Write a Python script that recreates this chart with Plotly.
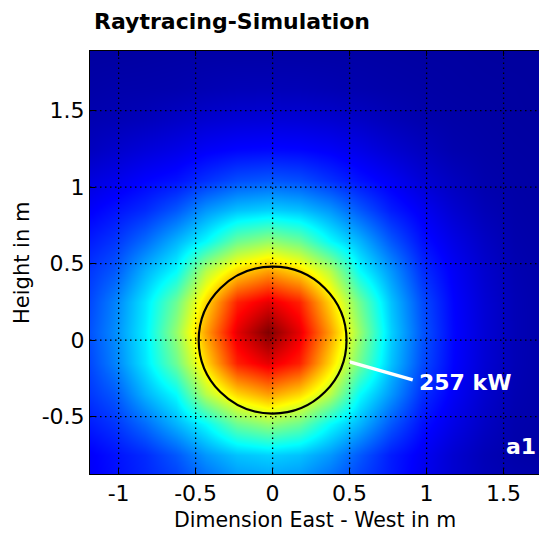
import plotly.graph_objects as go

# ---- data ----
title_text = "Raytracing-Simulation"
x_title = "Dimension East - West in m"
y_title = "Height in m"

# sample grid of the simulated flux map (relative intensity, 0..1), rows bottom -> top
grid_x = [-1.23, -1.03, -0.83, -0.63, -0.43, -0.23, -0.03, 0.17, 0.37, 0.57,
          0.77, 0.97, 1.17, 1.37, 1.57, 1.77]
grid_y = [-0.95, -0.75, -0.55, -0.35, -0.15, 0.05, 0.25, 0.45, 0.65, 0.85,
          1.05, 1.25, 1.45, 1.65, 1.85, 2.05]
flux = [
    [.114, .135, .16, .18, .22, .26, .27, .26, .22, .18, .148, .108, .079, .057, .049, .044],
    [.115, .14, .166, .21, .273, .315, .33, .315, .273, .21, .151, .114, .079, .054, .041, .036],
    [.145, .175, .23, .30, .375, .48, .52, .48, .375, .30, .21, .14, .10, .067, .045, .038],
    [.17, .21, .30, .375, .555, .665, .72, .665, .555, .375, .273, .171, .117, .077, .05, .039],
    [.18, .25, .35, .48, .665, .845, .90, .845, .665, .48, .315, .20, .127, .083, .054, .04],
    [.19, .26, .36, .52, .72, .90, 1.00, .90, .72, .52, .33, .21, .13, .085, .055, .04],
    [.18, .25, .35, .48, .665, .845, .90, .845, .665, .48, .315, .20, .127, .083, .054, .04],
    [.17, .21, .30, .375, .555, .665, .72, .665, .555, .375, .273, .171, .117, .077, .05, .039],
    [.145, .175, .23, .30, .375, .48, .52, .48, .375, .30, .21, .14, .10, .067, .045, .038],
    [.115, .14, .166, .21, .273, .315, .33, .315, .273, .21, .151, .114, .079, .054, .041, .036],
    [.088, .104, .125, .14, .171, .20, .21, .20, .171, .14, .114, .083, .061, .044, .038, .034],
    [.058, .073, .087, .10, .117, .127, .13, .127, .117, .10, .079, .061, .045, .039, .035, .033],
    [.047, .051, .057, .067, .077, .083, .085, .083, .077, .067, .054, .044, .039, .036, .033, .031],
    [.038, .042, .043, .045, .05, .054, .055, .054, .05, .045, .041, .038, .035, .033, .032, .03],
    [.033, .034, .036, .038, .039, .04, .04, .04, .039, .038, .036, .034, .033, .031, .03, .03],
    [.031, .032, .033, .034, .035, .035, .035, .035, .035, .034, .033, .032, .031, .03, .03, .03],
]

x_tickvals = [-1, -0.5, 0, 0.5, 1, 1.5]
x_ticktext = ["-1", "-0.5", "0", "0.5", "1", "1.5"]
y_tickvals = [-0.5, 0, 0.5, 1, 1.5]
y_ticktext = ["-0.5", "0", "0.5", "1", "1.5"]

x_range = [-1.186, 1.73]
y_range = [-0.875, 1.89]

circle_center = (0.0, 0.0)
circle_radius = 0.48
power_label = "257 kW"
power_leader_start = (0.50, -0.142)
power_leader_end = (0.91, -0.26)
power_label_pos = (0.94, -0.28)
panel_label = "a1"

jet = [
    [0.0, "rgb(0,0,128)"],
    [0.125, "rgb(0,0,255)"],
    [0.375, "rgb(0,255,255)"],
    [0.625, "rgb(255,255,0)"],
    [0.875, "rgb(255,0,0)"],
    [1.0, "rgb(128,0,0)"],
]

FONT = "DejaVu Sans"

fig = go.Figure()
fig.add_trace(go.Heatmap(
    x=grid_x, y=grid_y, z=flux,
    colorscale=jet, zmin=0, zmax=1, zsmooth="best",
    showscale=False, hoverinfo="skip",
))

shapes = []
dot = "1.5px,3.5px"
for xv in x_tickvals:
    shapes.append(dict(type="line", xref="x", yref="y", x0=xv, x1=xv,
                       y0=y_range[0], y1=y_range[1], layer="above",
                       line=dict(color="black", width=1.3, dash=dot)))
for yv in y_tickvals:
    shapes.append(dict(type="line", xref="x", yref="y", y0=yv, y1=yv,
                       x0=x_range[0], x1=x_range[1], layer="above",
                       line=dict(color="black", width=1.3, dash=dot)))
cx, cy = circle_center
shapes.append(dict(type="circle", xref="x", yref="y",
                   x0=cx - circle_radius, x1=cx + circle_radius,
                   y0=cy - circle_radius, y1=cy + circle_radius,
                   layer="above", line=dict(color="black", width=2.2)))
shapes.append(dict(type="line", xref="x", yref="y",
                   x0=power_leader_start[0], y0=power_leader_start[1],
                   x1=power_leader_end[0], y1=power_leader_end[1],
                   layer="above", line=dict(color="white", width=3.5)))

annotations = [
    dict(text=f"<b>{power_label}</b>", x=power_label_pos[0], y=power_label_pos[1],
         xref="x", yref="y", xanchor="left", yanchor="middle", showarrow=False,
         font=dict(family=FONT, size=22, color="white")),
    dict(text=f"<b>{panel_label}</b>", x=0.997, y=0.03, xref="paper", yref="paper",
         xanchor="right", yanchor="bottom", showarrow=False,
         font=dict(family=FONT, size=22, color="white")),
    dict(text=x_title, x=0.5, y=-(520 - 474) / 423, xref="paper", yref="paper",
         xanchor="center", yanchor="middle", showarrow=False,
         font=dict(family=FONT, size=20.5, color="black")),
    dict(text=y_title, x=-0.1526, y=0.5, xref="paper", yref="paper",
         xanchor="center", yanchor="middle", showarrow=False, textangle=-90,
         font=dict(family=FONT, size=21, color="black")),
]

fig.update_layout(
    width=539, height=533,
    margin=dict(l=90, r=0, t=51, b=59),
    paper_bgcolor="white", plot_bgcolor="rgb(0,0,128)",
    title=dict(text=f"<b>{title_text}</b>", x=94 / 539, xanchor="left",
               xref="container", y=1 - 21 / 533, yanchor="middle", yref="container",
               font=dict(family=FONT, size=22, color="black")),
    shapes=shapes, annotations=annotations,
    showlegend=False,
)
fig.update_xaxes(range=x_range, tickvals=x_tickvals, ticktext=x_ticktext,
                 showgrid=False, zeroline=False, showline=True, linecolor="black",
                 linewidth=1, mirror="ticks", ticks="inside", ticklen=5,
                 tickcolor="black", layer="above traces",
                 tickfont=dict(family=FONT, size=22, color="black"))
fig.update_yaxes(range=y_range, tickvals=y_tickvals, ticktext=y_ticktext,
                 showgrid=False, zeroline=False, showline=True, linecolor="black",
                 linewidth=1, ticks="inside", ticklen=5, tickcolor="black",
                 layer="above traces",
                 tickfont=dict(family=FONT, size=22, color="black"))

fig.write_html("out.html", config=dict(displayModeBar=False))
